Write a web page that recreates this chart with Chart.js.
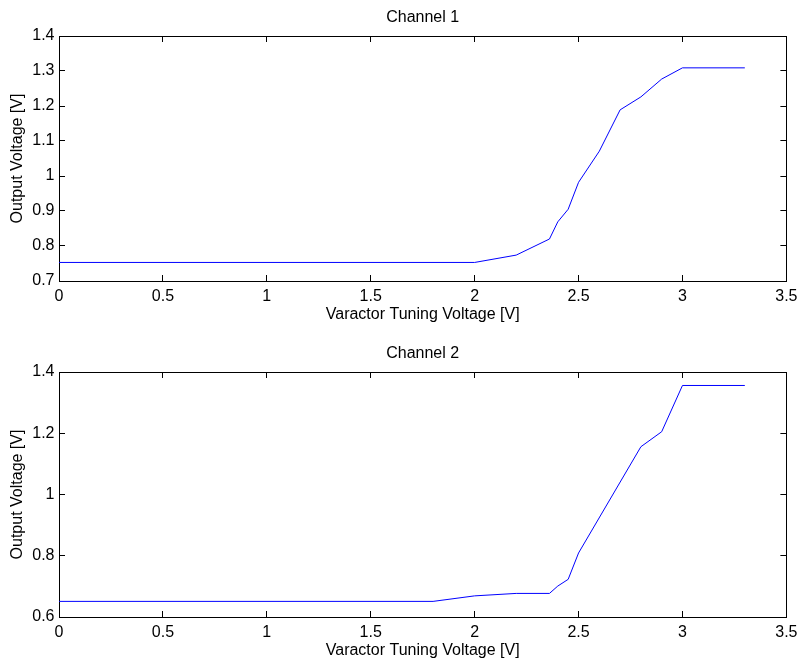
<!DOCTYPE html>
<html>
<head>
<meta charset="utf-8">
<title>Varactor tuning response</title>
<script src="https://cdn.jsdelivr.net/npm/chart.js@4.4.1/dist/chart.umd.min.js"></script>
<style>
  html, body { margin: 0; padding: 0; background: #ffffff; overflow: hidden; }
  #wrap { position: relative; width: 809px; height: 663px; overflow: hidden; background: #ffffff; }
  canvas { position: absolute; left: 0; }
  #c1 { top: 0; }
  #c2 { top: 336px; }
</style>
</head>
<body>
<div id="wrap">
  <canvas id="c1" width="809" height="331"></canvas>
  <canvas id="c2" width="809" height="331"></canvas>
</div>
<script>
// Tuning voltage axis ticks (shared by both channels)
const xTicks = [0, 0.5, 1, 1.5, 2, 2.5, 3, 3.5];
const xTickLabels = ['0', '0.5', '1', '1.5', '2', '2.5', '3', '3.5'];

// Channel 1 measurement
const ch1Tuning = [0, 2.0, 2.2, 2.36, 2.4, 2.45, 2.5, 2.6, 2.7, 2.8, 2.9, 3.0, 3.3];
const ch1Output = [0.753, 0.753, 0.774, 0.820, 0.869, 0.905, 0.982, 1.071, 1.189, 1.226, 1.277, 1.309, 1.309];
const ch1YTicks = [0.7, 0.8, 0.9, 1.0, 1.1, 1.2, 1.3, 1.4];
const ch1YTickLabels = ['0.7', '0.8', '0.9', '1', '1.1', '1.2', '1.3', '1.4'];

// Channel 2 measurement
const ch2Tuning = [0, 1.8, 2.0, 2.2, 2.36, 2.4, 2.45, 2.5, 2.8, 2.9, 3.0, 3.3];
const ch2Output = [0.651, 0.651, 0.669, 0.677, 0.677, 0.701, 0.723, 0.809, 1.156, 1.205, 1.356, 1.356];
const ch2YTicks = [0.6, 0.8, 1.0, 1.2, 1.4];
const ch2YTickLabels = ['0.6', '0.8', '1', '1.2', '1.4'];

const FONT_SIZE = 16;
Chart.defaults.font.family = "'Liberation Sans', Arial, Helvetica, sans-serif";
Chart.defaults.font.size = FONT_SIZE;
Chart.defaults.color = '#000000';

const TICK_LEN = -6; // inward tick marks

function tickSetter(values) {
  return function (scale) {
    scale.ticks = values.map(v => ({ value: v }));
  };
}

function axisGrid() {
  return {
    drawOnChartArea: false,
    drawTicks: true,
    tickLength: TICK_LEN,
    color: '#000000',
    lineWidth: 1
  };
}

function axisBorder() {
  return { display: true, color: '#000000', width: 1 };
}

function buildChart(canvasId, title, xs, ys, yTicks, yLabels, yMin, yMax) {
  const points = xs.map((x, i) => ({ x: x, y: ys[i] }));
  return new Chart(document.getElementById(canvasId), {
    type: 'line',
    data: {
      datasets: [{
        data: points,
        borderColor: '#0000ff',
        borderWidth: 1,
        pointRadius: 0,
        pointHoverRadius: 0,
        tension: 0,
        fill: false,
        xAxisID: 'x',
        yAxisID: 'y'
      }]
    },
    options: {
      responsive: false,
      animation: false,
      devicePixelRatio: 1,
      layout: { padding: { left: 0, right: 14, top: 0, bottom: 0 } },
      plugins: {
        legend: { display: false },
        tooltip: { enabled: false },
        title: {
          display: true,
          text: title,
          fullSize: false,
          color: '#000000',
          font: { size: FONT_SIZE, weight: 'normal' },
          padding: { top: 7.9, bottom: 8.9 }
        }
      },
      scales: {
        x: {
          type: 'linear',
          position: 'bottom',
          min: 0,
          max: 3.5,
          afterBuildTicks: tickSetter(xTicks),
          afterFit: s => { s.height = 50; },
          grid: axisGrid(),
          border: axisBorder(),
          ticks: {
            autoSkip: false,
            maxRotation: 0,
            padding: 11.5,
            color: '#000000',
            callback: (v, i) => xTickLabels[i]
          },
          title: {
            display: true,
            text: 'Varactor Tuning Voltage [V]',
            color: '#000000',
            font: { size: FONT_SIZE },
            padding: { top: 0, bottom: 7.2 }
          }
        },
        xTop: {
          type: 'linear',
          position: 'top',
          min: 0,
          max: 3.5,
          afterBuildTicks: tickSetter(xTicks),
          afterFit: s => { s.height = 0; },
          grid: axisGrid(),
          border: axisBorder(),
          ticks: { display: false }
        },
        y: {
          type: 'linear',
          position: 'left',
          min: yMin,
          max: yMax,
          afterBuildTicks: tickSetter(yTicks),
          afterFit: s => { s.width = 59; },
          grid: axisGrid(),
          border: axisBorder(),
          ticks: {
            autoSkip: false,
            padding: 10.5,
            color: '#000000',
            callback: (v, i) => yLabels[i]
          },
          title: {
            display: true,
            text: 'Output Voltage [V]',
            color: '#000000',
            font: { size: FONT_SIZE },
            padding: { top: 8.4, bottom: 0 }
          }
        },
        yRight: {
          type: 'linear',
          position: 'right',
          min: yMin,
          max: yMax,
          afterBuildTicks: tickSetter(yTicks),
          afterFit: s => { s.width = 0; },
          grid: axisGrid(),
          border: axisBorder(),
          ticks: { display: false }
        }
      }
    }
  });
}

buildChart('c1', 'Channel 1', ch1Tuning, ch1Output, ch1YTicks, ch1YTickLabels, 0.7, 1.4);
buildChart('c2', 'Channel 2', ch2Tuning, ch2Output, ch2YTicks, ch2YTickLabels, 0.6, 1.4);
</script>
</body>
</html>
